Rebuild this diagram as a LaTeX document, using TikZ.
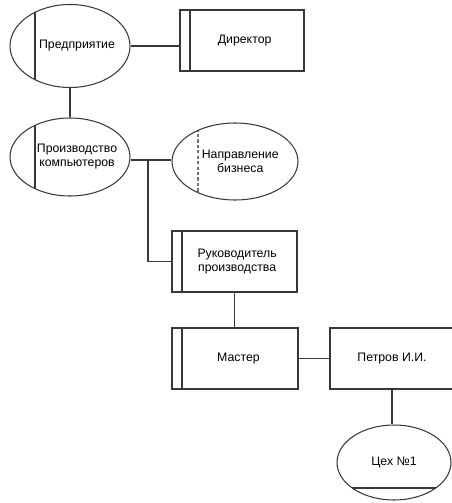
\documentclass[tikz,border=0pt]{standalone}
\usepackage{fontspec}
\setmainfont{Liberation Sans}
\usetikzlibrary{shapes.geometric}
\colorlet{edge}{black!78}

\tikzset{
  shape line/.style={draw=edge, line width=0.6pt},
  post/.style={shape line, rectangle, inner sep=0pt, minimum width=2.5cm, minimum height=1.22cm},
  oval/.style={shape line, ellipse, inner sep=0pt},
  % inner vertical stroke, clipped to the shape
  bar/.style={path picture={\draw[shape line]
      ([xshift=#1]path picture bounding box.north west) --
      ([xshift=#1]path picture bounding box.south west);}},
  dashbar/.style={path picture={\draw[shape line, draw=black!55, dash pattern=on 1.8pt off 1.3pt]
      ([xshift=#1]path picture bounding box.north west) --
      ([xshift=#1]path picture bounding box.south west);}},
  floor/.style={path picture={\draw[shape line]
      ([yshift=#1]path picture bounding box.south west) --
      ([yshift=#1]path picture bounding box.south east);}},
  caption/.style={align=center, xshift=#1},
  caption/.default=4pt,
  link/.style={draw=edge, line width=0.6pt}
}

\begin{document}
\begin{tikzpicture}[x=0.02cm, y=-0.02cm, font=\fontsize{7}{8}\selectfont]
  \useasboundingbox (0,0) rectangle (452,503);

  % top level
  \node[oval, bar=0.5cm, minimum width=2.4cm, minimum height=1.66cm,
        label={[caption]center:Предприятие}] (firm) at (70,46) {};
  \node[post, bar=0.2cm, minimum width=2.48cm,
        label={[caption=1.5pt]center:Директор}] (boss) at (242,40.5) {};

  % production branch
  \node[oval, bar=0.5cm, minimum width=2.4cm, minimum height=1.56cm,
        label={[caption]center:Производство\\компьютеров}] (prod) at (70,157) {};
  \node[oval, dashbar=0.52cm, minimum width=2.52cm, minimum height=1.54cm,
        label={[caption=3pt]center:Направление\\бизнеса}] (biz) at (235,161.5) {};
  \node[post, bar=0.2cm,
        label={[caption=1.5pt]center:Руководитель\\производства}] (head) at (234.5,261.5) {};

  % shop floor
  \node[post, bar=0.2cm, minimum width=2.52cm,
        label={[caption=2pt]center:Мастер}] (master) at (235,358.5) {};
  \node[post, minimum width=2.48cm,
        label={[caption=0pt]center:Петров И.И.}] (petrov) at (392,358.5) {};
  \node[oval, floor=0.24cm, minimum width=2.28cm, minimum height=1.5cm,
        label={[caption=0pt]center:Цех №1}] (shop) at (394,462.5) {};

  % connectors
  \coordinate (fork) at (148,160);
  \draw[link] (firm.east) -- (firm.east -| boss.west);
  \draw[link] (firm.south) -- (prod.north);
  \draw[link] (prod.east |- fork) -- (biz.west |- fork);
  \draw[link] (fork) |- (head.west);
  \draw[link] (head.south) -- (head.south |- master.north);
  \draw[link] (master.east) -- (petrov.west);
  \draw[link] (petrov.south) -- (petrov.south |- shop.north);
\end{tikzpicture}
\end{document}
